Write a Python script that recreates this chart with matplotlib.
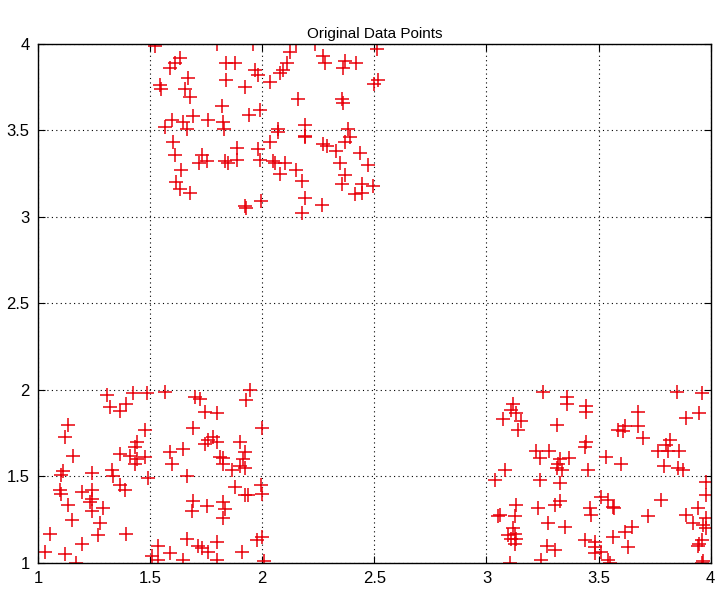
import numpy as np
import matplotlib.pyplot as plt

# cluster 1 (upper)
x_top = [1.52, 1.80, 1.96, 1.633, 1.611, 1.588, 1.84, 1.878, 1.967, 1.98,
         1.544, 1.55, 1.67, 1.655, 1.678, 1.84, 1.923, 1.82, 1.94, 1.99,
         1.596, 1.566, 1.648, 1.69, 1.663, 1.76, 1.826, 1.83,
         1.603, 1.61, 1.73, 1.752, 1.72, 1.834, 1.848, 1.886, 1.886, 1.98, 1.99,
         1.64, 1.618, 1.633, 1.678, 1.923, 1.926, 1.997,
         2.153, 2.235, 2.124, 2.11, 2.094, 2.08, 2.034, 2.27, 2.28, 2.37,
         2.36, 2.42, 2.51, 2.517, 2.50, 2.16, 2.354, 2.36, 2.19, 2.383, 2.07,
         2.07, 2.19, 2.19, 2.034, 2.27, 2.287, 2.33, 2.37, 2.39, 2.435, 2.47,
         2.05, 2.057, 2.10, 2.08, 2.153, 2.176, 2.346, 2.37, 2.354, 2.443,
         2.495, 2.413, 2.443, 2.19, 2.265, 2.176]
y_top = [3.99, 4.00, 4.00, 3.92, 3.89, 3.86, 3.89, 3.89, 3.85, 3.82,
         3.76, 3.74, 3.80, 3.74, 3.69, 3.79, 3.75, 3.64, 3.59, 3.62,
         3.56, 3.52, 3.55, 3.58, 3.51, 3.56, 3.55, 3.51,
         3.43, 3.36, 3.36, 3.32, 3.31, 3.32, 3.31, 3.40, 3.33, 3.39, 3.33,
         3.27, 3.20, 3.16, 3.14, 3.06, 3.05, 3.09,
         4.00, 4.00, 3.95, 3.89, 3.85, 3.83, 3.78, 3.93, 3.89, 3.90,
         3.86, 3.89, 3.97, 3.79, 3.77, 3.68, 3.68, 3.66, 3.53, 3.51, 3.51,
         3.49, 3.47, 3.46, 3.43, 3.42, 3.41, 3.38, 3.43, 3.46, 3.37, 3.30,
         3.32, 3.31, 3.31, 3.25, 3.27, 3.21, 3.31, 3.24, 3.19, 3.19,
         3.18, 3.13, 3.14, 3.11, 3.07, 3.02]

# cluster 2 (lower left)
x_left = [1.306, 1.425, 1.485, 1.32, 1.366, 1.395, 1.135, 1.12, 1.477, 1.157,
          1.44, 1.432, 1.366, 1.41, 1.44, 1.477, 1.432, 1.113, 1.24, 1.33,
          1.566, 1.70, 1.722, 1.945, 1.93, 1.745, 1.80, 1.69, 2.0,
          1.76, 1.78, 1.797, 1.745, 1.90, 1.648, 1.588, 1.81, 1.826, 1.923,
          1.596, 1.826, 1.864, 1.90, 1.923, 1.915,
          1.105, 1.336, 1.49, 1.098, 1.105, 1.195, 1.24, 1.388, 1.366, 1.24,
          1.232, 1.135, 1.29, 1.24, 1.15, 1.276, 1.27, 1.053, 1.395, 1.195,
          1.03, 1.12, 1.17, 1.507,
          1.663, 1.878, 1.923, 1.937, 1.997, 2.0, 1.69, 1.685, 1.752, 1.826,
          1.834, 1.826, 1.536, 1.663, 1.715, 1.73, 1.76, 1.80, 1.588, 1.648,
          1.80, 1.908, 1.536, 1.975, 2.0, 2.01]
y_left = [1.97, 1.98, 1.98, 1.90, 1.88, 1.92, 1.80, 1.73, 1.77, 1.62,
          1.70, 1.67, 1.63, 1.62, 1.60, 1.61, 1.57, 1.53, 1.52, 1.54,
          1.99, 1.96, 1.95, 2.00, 1.94, 1.87, 1.865, 1.78, 1.78,
          1.71, 1.73, 1.70, 1.69, 1.70, 1.66, 1.64, 1.61, 1.605, 1.64,
          1.57, 1.57, 1.54, 1.56, 1.55, 1.60,
          1.51, 1.50, 1.49, 1.42, 1.40, 1.41, 1.42, 1.42, 1.45, 1.37,
          1.35, 1.335, 1.32, 1.30, 1.25, 1.23, 1.16, 1.17, 1.17, 1.11,
          1.065, 1.05, 1.00, 1.04,
          1.50, 1.44, 1.39, 1.39, 1.45, 1.40, 1.36, 1.30, 1.33, 1.355,
          1.31, 1.26, 1.10, 1.14, 1.10, 1.085, 1.065, 1.12, 1.055, 1.02,
          1.02, 1.065, 1.02, 1.13, 1.15, 1.01]

# cluster 3 (lower right)
x_right = [3.253, 3.357, 3.357, 3.446, 3.446, 3.12, 3.11, 3.134, 3.075, 3.156,
           3.14, 3.313, 3.446, 3.44, 3.223, 3.238, 3.28, 3.327, 3.37, 3.32,
           3.082, 3.313, 3.335, 3.453,
           3.848, 3.96, 3.676, 3.89, 3.95, 3.587, 3.61, 3.617, 3.676, 3.70,
           3.818, 3.765, 3.81, 3.80, 3.86, 3.535, 3.60, 3.79, 3.855, 3.877,
           3.037, 3.238, 3.327, 3.134, 3.23, 3.327, 3.305, 3.46, 3.468, 3.052,
           3.06, 3.127, 3.275, 3.35, 3.12, 3.127, 3.097, 3.11, 3.134, 3.127,
           3.268, 3.305, 3.44, 3.483, 3.483, 3.483, 3.104, 3.245,
           3.98, 3.98, 3.51, 3.54, 3.565, 3.57, 3.78, 3.72, 3.89, 3.944,
           3.92, 3.966, 3.98, 3.98, 3.647, 3.617, 3.565, 3.63, 3.96, 3.944,
           3.95, 3.51, 3.54, 3.55, 3.966, 3.96]
y_right = [1.99, 1.96, 1.92, 1.91, 1.875, 1.92, 1.885, 1.865, 1.83, 1.82,
           1.77, 1.80, 1.70, 1.67, 1.65, 1.605, 1.65, 1.60, 1.605, 1.57,
           1.54, 1.55, 1.54, 1.54,
           1.99, 1.98, 1.875, 1.84, 1.865, 1.77, 1.76, 1.79, 1.79, 1.72,
           1.71, 1.65, 1.65, 1.68, 1.65, 1.61, 1.57, 1.56, 1.55, 1.54,
           1.48, 1.48, 1.46, 1.335, 1.32, 1.36, 1.335, 1.32, 1.28, 1.27,
           1.28, 1.27, 1.23, 1.21, 1.20, 1.17, 1.16, 1.14, 1.14, 1.11,
           1.10, 1.075, 1.13, 1.12, 1.095, 1.055, 1.00, 1.02,
           1.47, 1.39, 1.38, 1.365, 1.325, 1.315, 1.365, 1.27, 1.28, 1.315,
           1.23, 1.22, 1.26, 1.20, 1.21, 1.18, 1.15, 1.095, 1.13, 1.10,
           1.11, 1.065, 1.02, 1.00, 1.01, 1.00]

x = np.array(x_top + x_left + x_right)
y = np.array(y_top + y_left + y_right)

ticks = [1, 1.5, 2, 2.5, 3, 3.5, 4]
tick_labels = ["1", "1.5", "2", "2.5", "3", "3.5", "4"]

plt.rcParams['font.family'] = ['Liberation Sans', 'DejaVu Sans']

fig = plt.figure(figsize=(7.15, 5.92), dpi=100)
ax = fig.add_axes([0.053, 0.049, 0.941, 0.877])
ax.plot(x, y, "+", color="#e8000a", markersize=10.5, markeredgewidth=1.1)

ax.set_xlim(1, 4)
ax.set_ylim(1, 4)
ax.set_xticks(ticks)
ax.set_xticklabels(tick_labels)
ax.set_yticks(ticks)
ax.set_yticklabels(tick_labels)
ax.tick_params(direction="in", top=True, right=True, length=5, labelsize=12, pad=6)
ax.grid(True, linestyle=(0, (1, 3)), color="black", linewidth=0.8)
for s in ax.spines.values():
    s.set_linewidth(1.0)
ax.set_title("Original Data Points", fontsize=11, pad=4)

fig.savefig("out.png", dpi=100)
